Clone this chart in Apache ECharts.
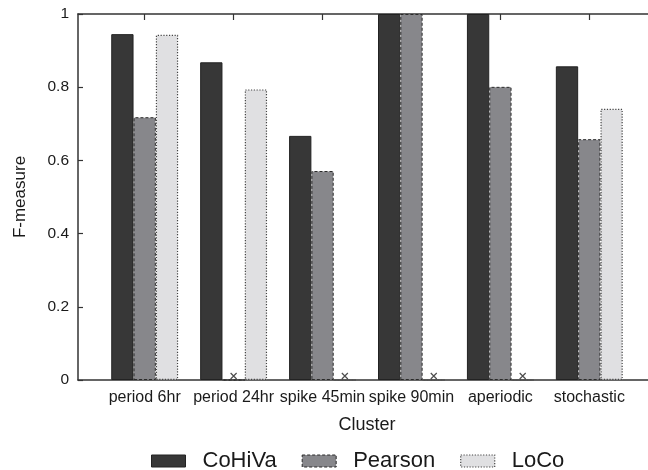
<!DOCTYPE html>
<html>
<head>
<meta charset="utf-8">
<script src="https://cdn.jsdelivr.net/npm/echarts@6/dist/echarts.min.js"></script>
<style>
  html, body { margin: 0; padding: 0; background: #fff; }
  #chart { width: 648px; height: 470px; }
</style>
</head>
<body>
<div id="chart"></div>
<script>
// Cluster categories along the x axis
const clusters = ['period 6hr', 'period 24hr', 'spike 45min', 'spike 90min', 'aperiodic', 'stochastic'];

// F-measure per method (0 = no result, marked with a cross)
const cohiva  = [0.945, 0.868, 0.667, 1.0, 1.0, 0.857];
const pearson = [0.718, 0, 0.571, 1.0, 0.801, 0.658];
const loco    = [0.943, 0.794, 0, 0, 0, 0.741];

const methodNames = ['CoHiVa', 'Pearson', 'LoCo'];

// y-axis ticks
const yTicks = [0, 0.2, 0.4, 0.6, 0.8, 1];

const FONT = '"Liberation Sans", Arial, sans-serif';
const TEXT = '#1a1a1a';
const LINE = '#333';

// x runs over cluster indices; bars of one cluster sit side by side
const X_MIN = -0.75, X_MAX = 5.75;
const PLOT_W = 578;
const UNIT = PLOT_W / (X_MAX - X_MIN);
const BAR_W = 22.3;
const barUnits = BAR_W / UNIT;

const methodValues = [cohiva, pearson, loco];
const styles = [
  { color: '#373737', borderColor: '#222', borderWidth: 1, borderType: 'solid' },
  { color: '#87878b', borderColor: '#2a2a2a', borderWidth: 1, borderType: [3, 2] },
  { color: '#e0e0e2', borderColor: '#444', borderWidth: 1.2, borderType: [1.2, 1.6] }
];

const barSeries = methodValues.map((vals, s) => ({
  name: methodNames[s],
  type: 'bar',
  barWidth: BAR_W,
  barGap: '0%',
  data: vals.map((v, i) => [i, v]),
  itemStyle: styles[s],
  silent: true
}));

// crosses where a method produced no value
const missing = [];
methodValues.forEach((vals, s) => {
  vals.forEach((v, i) => {
    if (v === 0) missing.push([i + (s - 1) * barUnits, 0]);
  });
});

const crossSeries = {
  type: 'scatter',
  data: missing,
  symbol: 'path://M0,0L10,10M10,0L0,10',
  symbolSize: [6, 6],
  symbolOffset: [0, -4],
  itemStyle: { color: 'rgba(0,0,0,0)', borderColor: '#222', borderWidth: 1.2 },
  z: 5,
  silent: true
};

const chart = echarts.init(document.getElementById('chart'), null, { renderer: 'canvas' });

chart.setOption({
  animation: false,
  backgroundColor: '#fff',
  grid: {
    left: 78, top: 14, width: PLOT_W, height: 366,
    containLabel: false,
    outerBoundsMode: 'none'
  },
  legend: {
    data: methodNames.map((n, s) => ({ name: n, itemStyle: styles[s] })),
    left: 151,
    top: 450,
    padding: 0,
    icon: 'rect',
    itemWidth: 34,
    itemHeight: 12,
    itemGap: 25,
    textStyle: { fontFamily: FONT, fontSize: 22, color: TEXT, padding: [0, 0, 0, 12] }
  },
  xAxis: [
    {
      type: 'value',
      position: 'bottom',
      min: X_MIN,
      max: X_MAX,
      name: 'Cluster',
      nameLocation: 'middle',
      nameGap: 36,
      nameTextStyle: { fontFamily: FONT, fontSize: 18, color: TEXT },
      splitLine: { show: false },
      axisLine: { show: true, onZero: false, lineStyle: { color: LINE, width: 1.5 } },
      axisTick: { show: false },
      axisLabel: {
        customValues: clusters.map((c, i) => i),
        formatter: v => clusters[Math.round(v)],
        fontFamily: FONT,
        fontSize: 16,
        color: TEXT,
        margin: 10
      }
    },
    {
      type: 'value',
      position: 'top',
      min: X_MIN,
      max: X_MAX,
      splitLine: { show: false },
      axisLine: { show: true, onZero: false, lineStyle: { color: LINE, width: 1.5 } },
      axisTick: {
        show: true,
        inside: true,
        length: 6,
        customValues: clusters.map((c, i) => i),
        lineStyle: { color: LINE, width: 1.2 }
      },
      axisLabel: { show: false }
    }
  ],
  yAxis: {
    type: 'value',
    min: 0,
    max: 1,
    interval: 0.2,
    name: 'F-measure',
    nameLocation: 'middle',
    nameGap: 49,
    nameTextStyle: { fontFamily: FONT, fontSize: 17, color: TEXT },
    splitLine: { show: false },
    axisLine: { show: true, onZero: false, lineStyle: { color: LINE, width: 1.5 } },
    axisTick: { show: true, inside: true, length: 5, lineStyle: { color: LINE, width: 1.2 } },
    axisLabel: {
      customValues: yTicks,
      formatter: v => String(Math.round(v * 10) / 10),
      fontFamily: FONT,
      fontSize: 15.5,
      color: TEXT,
      margin: 9
    }
  },
  series: [...barSeries, crossSeries]
});
</script>
</body>
</html>
